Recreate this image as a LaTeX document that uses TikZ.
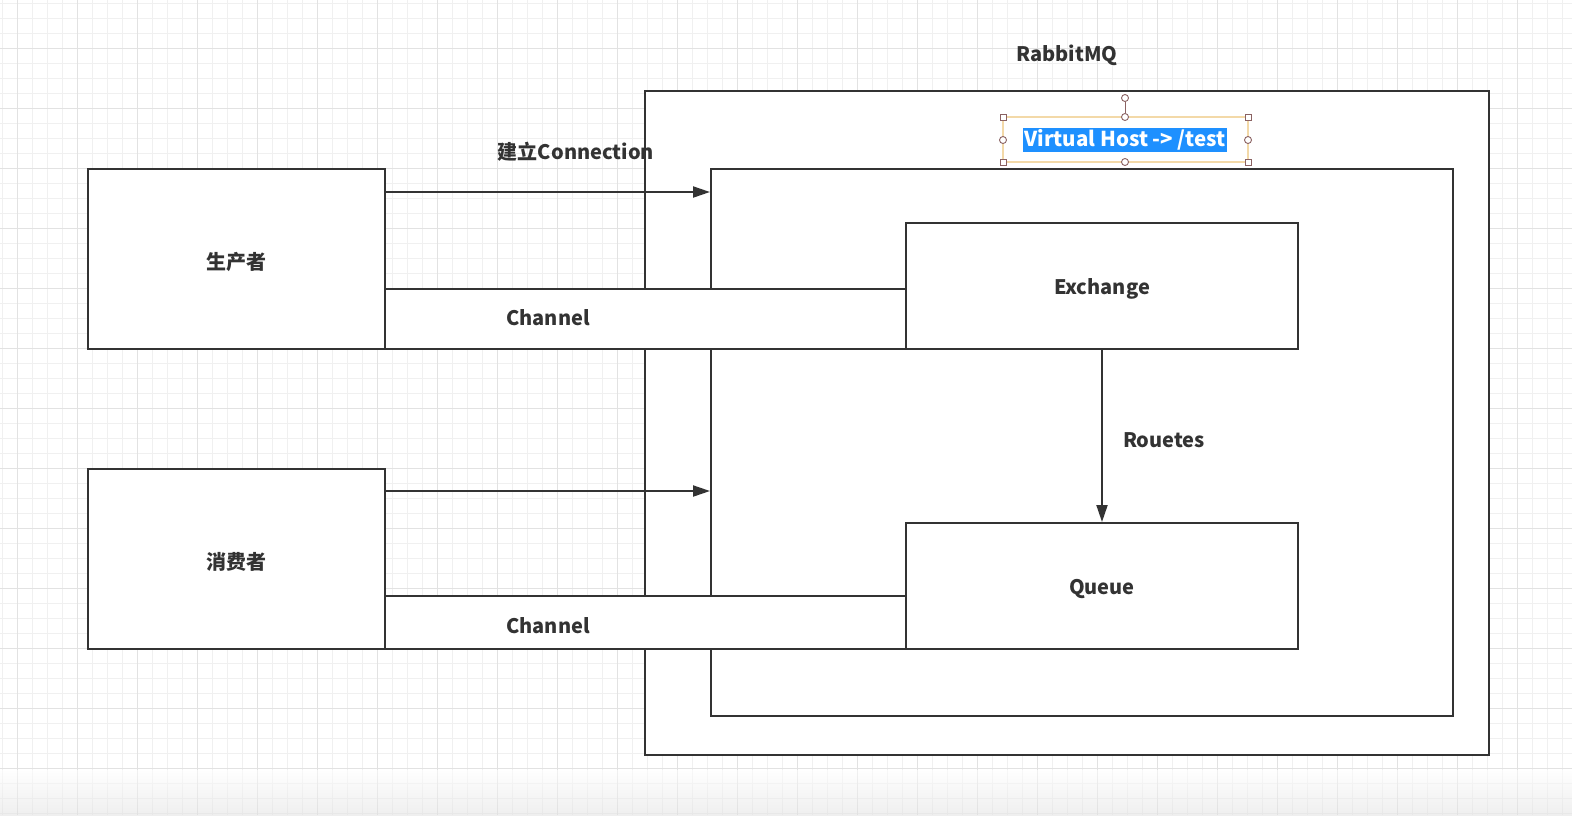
\documentclass[tikz,border=0pt]{standalone}
\usepackage{fontspec}
\setmainfont{Noto Sans CJK SC}
\usetikzlibrary{arrows.meta}
\definecolor{ink}{HTML}{333333}
\definecolor{gridminor}{HTML}{F0F0F0}
\definecolor{gridmajor}{HTML}{E2E2E2}
\definecolor{selblue}{HTML}{1E90FF}
\definecolor{selframe}{HTML}{F3D9A8}
\definecolor{handle}{HTML}{8A6262}
\begin{document}
\begin{tikzpicture}[x=1pt,y=-1pt,
  font=\fontsize{20}{24}\selectfont\bfseries,
  box/.style={draw=ink,line width=2pt,fill=white,inner sep=0pt,rectangle},
  lbl/.style={text=ink,inner sep=0pt,yshift=-3pt},
  conn/.style={draw=ink,line width=2pt,-{Triangle[length=17pt,width=11pt]}},
  hsq/.style={draw=handle,fill=white,line width=0.9pt,minimum size=6pt,inner sep=0pt,rectangle},
  hci/.style={draw=handle,fill=white,line width=0.9pt,minimum size=7pt,inner sep=0pt,circle}]
\useasboundingbox (0,0) rectangle (1572,815);
\fill[white] (0,0) rectangle (1572,815);
% background grid
\foreach \gx in {2,17,...,1572} \draw[gridminor,line width=0.9pt] (\gx,0) -- (\gx,815);
\foreach \gy in {3,18,...,815} \draw[gridminor,line width=0.9pt] (0,\gy) -- (1572,\gy);
\foreach \gx in {17,77,...,1572} \draw[gridmajor,line width=0.9pt] (\gx,0) -- (\gx,815);
\foreach \gy in {48,108,...,815} \draw[gridmajor,line width=0.9pt] (0,\gy) -- (1572,\gy);
\shade[top color=white,bottom color=black!12,opacity=0.5] (0,770) rectangle (1572,815);

% broker and virtual host
\node[box,minimum width=844pt,minimum height=664pt] (mq) at (1067,423) {};
\node[box,minimum width=742pt,minimum height=547pt] (vhost) at (1082,442.5) {};

% connections
\node[box,minimum width=297pt,minimum height=180pt] (prod) at (236.5,259) {};
\node[box,minimum width=297pt,minimum height=180pt] (cons) at (236.5,559) {};
\draw[conn] ([yshift=-24pt]prod.north east) coordinate (p1) -- (p1 -| vhost.west);
\draw[conn] ([yshift=-23pt]cons.north east) coordinate (c1) -- (c1 -| vhost.west);

% channels
\node[box,minimum width=521pt,minimum height=60pt] (chan1) at (645.5,319) {};
\node[box,minimum width=521pt,minimum height=53pt] (chan2) at (645.5,622.5) {};

% exchange and queue
\node[box,minimum width=392pt,minimum height=126pt] (exch) at (1102,286) {};
\node[box,minimum width=392pt,minimum height=126pt] (queue) at (1102,586) {};
\draw[conn] (exch.south) -- (queue.north);

% texts
\node[lbl] (tprod) at (prod) {生产者};
\node[lbl] (tcons) at (cons) {消费者};
\node[lbl] (tex) at (exch) {Exchange};
\node[lbl] (tq) at (queue) {Queue};
\node[lbl] (tch1) at (548,315) {Channel};
\node[lbl] (tch2) at (548,623) {Channel};
\node[lbl] (troute) at (1164,437) {Rouetes};
\node[lbl] (tmq) at (1067,52) {RabbitMQ};
\node[lbl] (tconn) at (576,149) {建立Connection};

% selected label
\draw[selframe,line width=1.3pt] (1003,117) rectangle (1248,162);
\node[fill=selblue,text=white,inner xsep=1pt,inner ysep=1pt,minimum height=24pt,font=\fontsize{20.5}{24}\selectfont\bfseries] (tvh) at (1125,140) {Virtual Host -> /test};
\node[hci] (rot) at (1125,98) {};
\node[hci] (hn) at (1125,117) {};
\draw[handle,line width=0.9pt] (rot) -- (hn);
\node[hci] (hs) at (1125,162) {};
\node[hci] (hw) at (1003,140) {};
\node[hci] (he) at (1248,140) {};
\node[hsq] (hnw) at (1003,117) {};
\node[hsq] (hne) at (1248,117) {};
\node[hsq] (hsw) at (1003,162) {};
\node[hsq] (hse) at (1248,162) {};
\end{tikzpicture}
\end{document}
